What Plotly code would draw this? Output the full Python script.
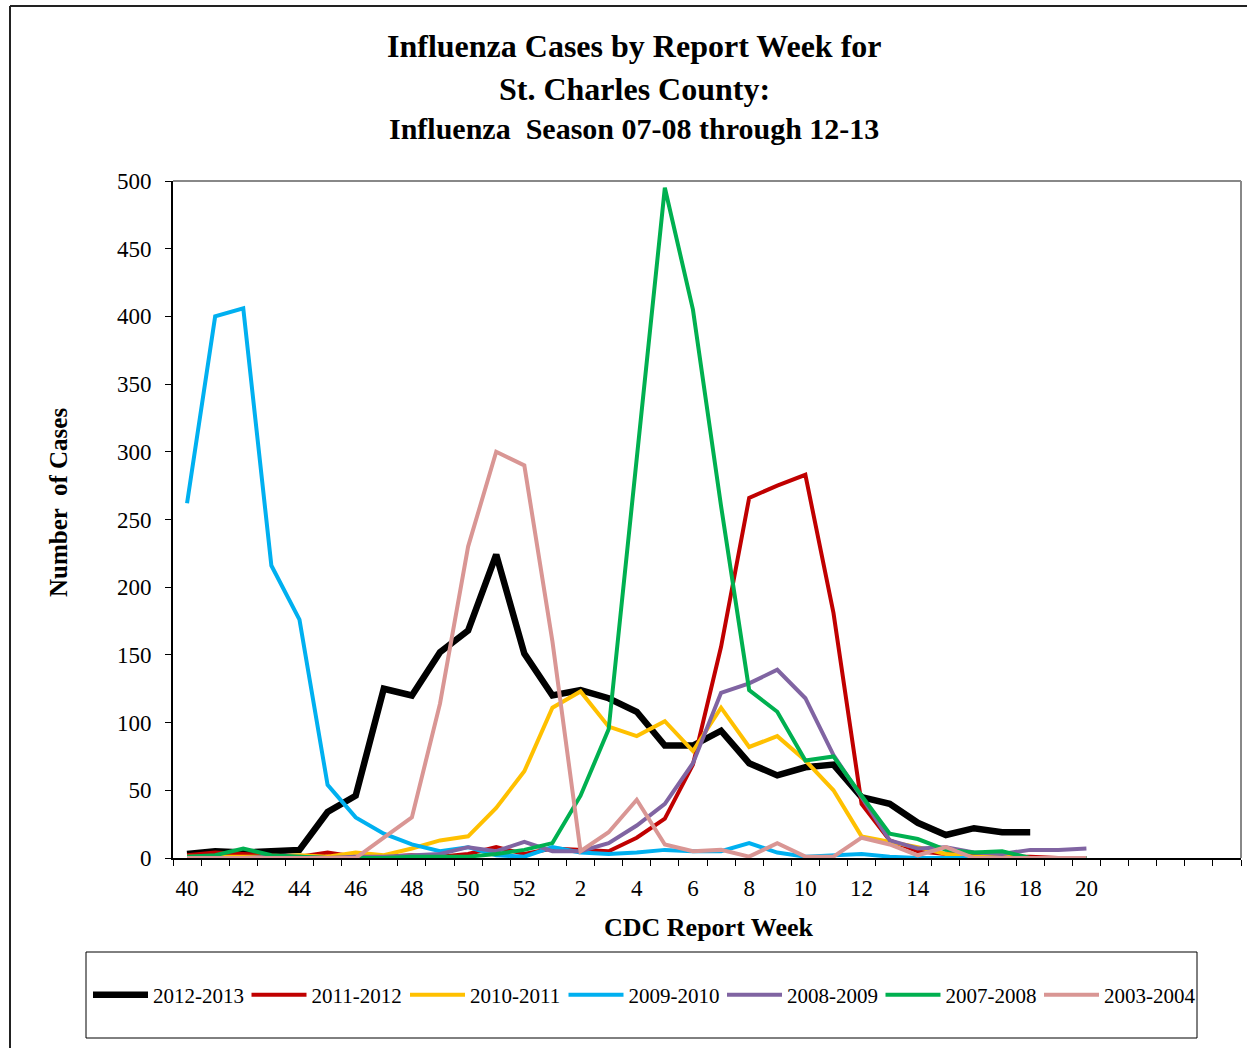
import plotly.graph_objects as go

weeks = ["40", "41", "42", "43", "44", "45", "46", "47", "48", "49", "50", "51", "52",
         "1", "2", "3", "4", "5", "6", "7", "8", "9", "10", "11", "12", "13", "14", "15",
         "16", "17", "18", "19", "20", "21", "22", "23", "24", "25"]
tick_labels = ["40", "", "42", "", "44", "", "46", "", "48", "", "50", "", "52",
               "", "2", "", "4", "", "6", "", "8", "", "10", "", "12", "", "14", "",
               "16", "", "18", "", "20", "", "", "", "", ""]

season_names = ["2012-2013", "2011-2012", "2010-2011", "2009-2010", "2008-2009", "2007-2008", "2003-2004"]

s_2012_2013 = [3, 5, 4, 5, 6, 34, 46, 125, 120, 152, 168, 224, 151, 120, 124, 118, 108, 83, 83, 94,
               70, 61, 67, 69, 45, 40, 26, 17, 22, 19, 19]
s_2011_2012 = [2, 4, 3, 2, 1, 4, 1, 1, 2, 1, 3, 8, 3, 7, 6, 5, 15, 29, 69, 156,
               266, 275, 283, 181, 40, 13, 5, 3, 2, 1, 1, 0, 0]
s_2010_2011 = [1, 1, 1, 1, 2, 1, 4, 2, 7, 13, 16, 37, 64, 111, 123, 97, 90, 101, 79, 111,
               82, 90, 72, 50, 16, 12, 8, 3, 1, 1, 0, 0, 0]
s_2009_2010 = [262, 400, 406, 216, 176, 54, 30, 18, 10, 5, 8, 2, 1, 8, 4, 3, 4, 6, 5, 5,
               11, 4, 1, 2, 3, 1, 0, 0, 0, 0, 0, 0, 0]
s_2008_2009 = [0, 0, 0, 1, 1, 0, 1, 1, 2, 3, 8, 5, 12, 5, 5, 11, 24, 40, 70, 122,
               129, 139, 118, 76, 45, 13, 7, 8, 4, 3, 6, 6, 7]
s_2007_2008 = [1, 2, 7, 2, 1, 0, 0, 0, 1, 1, 1, 3, 6, 11, 46, 95, 295, 495, 405, 260,
               124, 108, 72, 75, 46, 18, 14, 6, 4, 5, 0, 0, 0]
s_2003_2004 = [0, 0, 0, 0, 0, 0, 0, 15, 30, 114, 230, 300, 290, 160, 5, 19, 43, 10, 5, 6,
               1, 11, 1, 1, 15, 10, 2, 8, 0, 0, 0, 0, 0]

series = [s_2012_2013, s_2011_2012, s_2010_2011, s_2009_2010, s_2008_2009, s_2007_2008, s_2003_2004]
colors = ["#000000", "#C00000", "#FFC000", "#00B0F0", "#8064A2", "#00B050", "#D99694"]
widths = [6.5, 4, 4, 4, 4, 4, 4]

FONT = "Liberation Serif, Times New Roman, serif"

fig = go.Figure()
# invisible trace registering all categories on the axis
fig.add_trace(go.Scatter(x=weeks, y=[None] * len(weeks), mode="lines",
                         showlegend=False, hoverinfo="skip"))
for name, vals, c, w in zip(season_names, series, colors, widths):
    fig.add_trace(go.Scatter(x=weeks[:len(vals)], y=vals, name=name, mode="lines",
                             line=dict(color=c, width=w)))

W, H = 1247, 1048
L, R, T, B = 173, 1241, 181, 858
pw, ph = R - L, B - T


def px(xp):
    return (xp - L) / pw


def py(yp):
    return (B - yp) / ph


fig.update_layout(
    width=W, height=H,
    margin=dict(l=L, r=W - R, t=T, b=H - B),
    paper_bgcolor="white", plot_bgcolor="white",
    font=dict(family=FONT, color="black", size=22),
    showlegend=True,
    legend=dict(orientation="h", x=px(88), xanchor="left", y=py(995), yanchor="middle",
                font=dict(family=FONT, size=21, color="black"),
                itemwidth=55, entrywidth=88.5, entrywidthmode="pixels",
                bgcolor="rgba(0,0,0,0)", borderwidth=0, traceorder="normal",
                itemclick=False, itemdoubleclick=False),
    xaxis=dict(type="category", categoryorder="array", categoryarray=weeks,
               range=[-0.5, len(weeks) - 0.5],
               tickmode="array", tickvals=weeks, ticktext=tick_labels,
               tickson="boundaries", ticks="outside", ticklen=6, tickcolor="black",
               tickwidth=1, showline=True, linecolor="black", linewidth=2,
               showgrid=False, zeroline=False, tickangle=0, ticklabelstandoff=8,
               tickfont=dict(family=FONT, size=23, color="black")),
    yaxis=dict(range=[0, 500], tickmode="linear", tick0=0, dtick=50,
               ticks="outside", ticklen=6, tickcolor="black", tickwidth=1,
               showline=True, linecolor="black", linewidth=2,
               showgrid=False, zeroline=False, ticklabelstandoff=9,
               tickfont=dict(family=FONT, size=23, color="black")),
    annotations=[
        dict(text="<b>Influenza Cases by Report Week for</b>", x=px(634), y=py(46),
             xref="paper", yref="paper", showarrow=False, xanchor="center", yanchor="middle",
             font=dict(family=FONT, size=32, color="black")),
        dict(text="<b>St. Charles County:</b>", x=px(634), y=py(89),
             xref="paper", yref="paper", showarrow=False, xanchor="center", yanchor="middle",
             font=dict(family=FONT, size=32, color="black")),
        dict(text="<b>Influenza  Season 07-08 through 12-13</b>", x=px(634), y=py(128),
             xref="paper", yref="paper", showarrow=False, xanchor="center", yanchor="middle",
             font=dict(family=FONT, size=30, color="black")),
        dict(text="<b>CDC Report Week</b>", x=px(708), y=py(928),
             xref="paper", yref="paper", showarrow=False, xanchor="center", yanchor="middle",
             font=dict(family=FONT, size=26, color="black")),
        dict(text="<b>Number  of Cases</b>", x=px(58), y=py(503), textangle=-90,
             xref="paper", yref="paper", showarrow=False, xanchor="center", yanchor="middle",
             font=dict(family=FONT, size=25, color="black")),
    ],
    shapes=[
        # plot area top and right border (grey)
        dict(type="line", xref="paper", yref="paper", x0=0, x1=1, y0=1, y1=1,
             line=dict(color="#888888", width=2)),
        dict(type="line", xref="paper", yref="paper", x0=1, x1=1, y0=0, y1=1,
             line=dict(color="#888888", width=2)),
        # legend box
        dict(type="rect", xref="paper", yref="paper", x0=px(86), x1=px(1197),
             y0=py(1038), y1=py(952), line=dict(color="black", width=1)),
        # outer chart frame (top and left)
        dict(type="line", xref="paper", yref="paper", x0=px(10), x1=px(1247),
             y0=py(6), y1=py(6), line=dict(color="#222222", width=2)),
        dict(type="line", xref="paper", yref="paper", x0=px(10), x1=px(10),
             y0=py(6), y1=py(1048), line=dict(color="#222222", width=2)),
    ],
)

fig.write_html("out.html", config={"displayModeBar": False},
               post_script="document.body.style.margin='0px';document.body.style.overflow='hidden';")
